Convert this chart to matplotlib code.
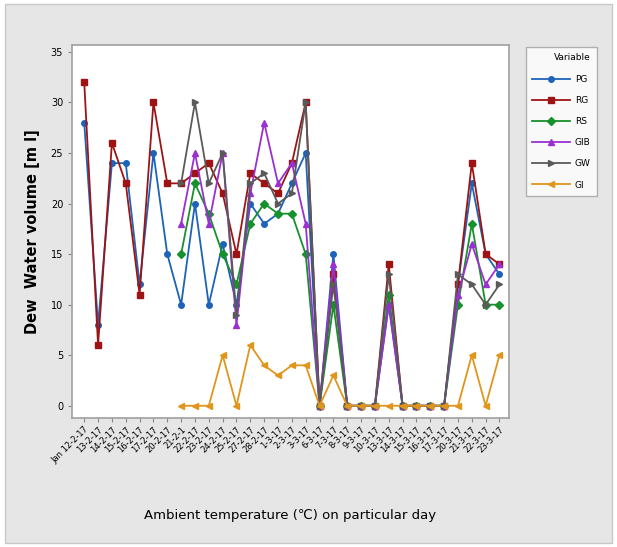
import numpy as np
import matplotlib
matplotlib.use('Agg')
import matplotlib.pyplot as plt
from matplotlib.patches import Rectangle

plt.rcParams['font.family'] = ['DejaVu Sans', 'Noto Sans']

# day labels on the x axis (hard to read in the source, approximated)
days = ['Jan 12-2-17', '13-2-17', '14-2-17', '15-2-17', '16-2-17', '17-2-17',
        '20-2-17', '21-2-1', '22-2-17', '23-2-17', '24-2-17', '25-2-17',
        '27-2-17', '28-2-17', '1-3-17', '2-3-17', '3-3-17', '6-3-17',
        '7-3-17', '8-3-17', '9-3-17', '10-3-17', '13-3-17', '14-3-17',
        '15-3-17', '16-3-17', '17-3-17', '20-3-17', '21-3-17', '22-3-17',
        '23-3-17']

N = None
pg = [28, 8, 24, 24, 12, 25, 15, 10, 20, 10, 16, 10, 20, 18, 19, 22, 25, 0, 15,
      0, 0, 0, 10, 0, 0, 0, 0, 12, 22, 15, 13]
rg = [32, 6, 26, 22, 11, 30, 22, 22, 23, 24, 21, 15, 23, 22, 21, 24, 30, 0, 13,
      0, 0, 0, 14, 0, 0, 0, 0, 12, 24, 15, 14]
rs = [N, N, N, N, N, N, N, 15, 22, 19, 15, 12, 18, 20, 19, 19, 15, 0, 10,
      0, 0, 0, 11, 0, 0, 0, 0, 10, 18, 10, 10]
gib = [N, N, N, N, N, N, N, 18, 25, 18, 25, 8, 21, 28, 22, 24, 18, 0, 14,
       0, 0, 0, 10, 0, 0, 0, 0, 11, 16, 12, 14]
gw = [N, N, N, N, N, N, N, 22, 30, 22, 25, 9, 22, 23, 20, 21, 30, 0, 12,
      0, 0, 0, 13, 0, 0, 0, 0, 13, 12, 10, 12]
gi = [N, N, N, N, N, N, N, 0, 0, 0, 5, 0, 6, 4, 3, 4, 4, 0, 3,
      0, 0, 0, 0, 0, 0, 0, 0, 0, 5, 0, 5]

series = [('PG', pg, '#1d63b8', 'o'),
          ('RG', rg, '#9e1414', 's'),
          ('RS', rs, '#17912c', 'D'),
          ('GIB', gib, '#9a2fd2', '^'),
          ('GW', gw, '#5a5a5a', '>'),
          ('GI', gi, '#e0961c', '<')]

fig = plt.figure(figsize=(6.17, 5.47), dpi=100, facecolor='white')
fig.patches.append(Rectangle((0.008, 0.008), 0.984, 0.984, transform=fig.transFigure,
                             facecolor='#e6e6e6', edgecolor='#c8c8c8', lw=1, zorder=-10))
ax = fig.add_axes([0.117, 0.236, 0.708, 0.682])
ax.set_facecolor('white')

x = np.arange(len(days))
for name, vals, col, mk in series:
    y = np.array([np.nan if v is None else v for v in vals], dtype=float)
    ax.plot(x, y, color=col, marker=mk, ms=4, lw=1.3, label=name)

ax.set_xlim(-0.87, len(days) - 1 + 0.69)
ax.set_ylim(-1.2, 35.7)
ax.set_yticks(np.arange(0, 36, 5))
ax.set_xticks(x)
ax.set_xticklabels(days, rotation=45, ha='right', rotation_mode='anchor', fontsize=6)
ax.tick_params(axis='y', labelsize=7, length=3, color='#888888')
ax.tick_params(axis='x', length=3, color='#888888', pad=2)
for s in ax.spines.values():
    s.set_color('#a0a0a0')
    s.set_linewidth(1.2)

ax.set_ylabel('Dew  Water volume [m l]', fontsize=10.5, fontweight='bold', labelpad=8)
fig.text(0.47, 0.052, 'Ambient temperature (\u2103) on particular day', fontsize=9.5,
         ha='center')

leg = fig.legend(loc='upper left', bbox_to_anchor=(0.845, 0.922), title='Variable',
                 fontsize=6.5, title_fontsize=6.5, frameon=True, fancybox=False,
                 edgecolor='#a0a0a0', handlelength=4.2, labelspacing=1.35,
                 borderpad=0.7, handletextpad=0.5)
leg.get_frame().set_linewidth(1.0)
leg._legend_box.align = 'right'

fig.savefig('out.png', dpi=100, facecolor=fig.get_facecolor())
